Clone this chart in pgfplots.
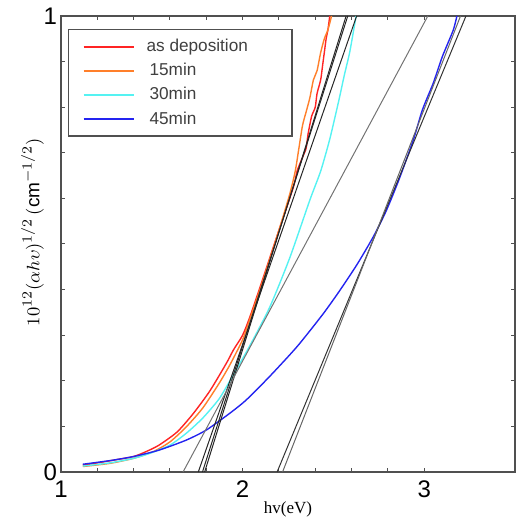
\documentclass[border=0pt]{standalone}
\usepackage{pgfplots}
\pgfplotsset{compat=1.18}
\usepackage{fontspec}
\setmainfont{Liberation Sans}
\newfontfamily\seriffont{Liberation Serif}

\definecolor{cRed}{HTML}{FF2424}
\definecolor{cOrange}{HTML}{FF7F2A}
\definecolor{cCyan}{HTML}{55F2F2}
\definecolor{cBlue}{HTML}{2424F0}
\definecolor{frame}{HTML}{505050}

\begin{document}%
\begin{tikzpicture}
\begin{axis}[
    width=227pt, height=228pt,
    scale only axis,
    xmin=1, xmax=3.5, ymin=0, ymax=1,
    xtick={1,2,3}, ytick={0,1},
    minor x tick num=4, minor y tick num=9,
    tick align=inside,
    major tick length=2.2pt, minor tick length=2.2pt,
    tick style={frame, line width=0.5pt},
    axis line style={frame, line width=0.7pt},
    ticklabel style={font=\fontsize{12}{14}\selectfont},
    /pgf/number format/assume math mode=true,
    xticklabel style={yshift=-1pt},
    yticklabel style={xshift=1.5pt},
    xlabel={\seriffont hv(eV)},
    xlabel style={font=\fontsize{8.5}{10}\selectfont, yshift=5pt},
    ylabel={$10^{12}(\alpha h\upsilon)^{1/2}\,(\mathrm{cm}^{-1/2})$},
    ylabel style={font=\fontsize{9.5}{11}\selectfont, yshift=-7pt, xshift=6pt},
    legend style={at={(0.0154,0.971)}, anchor=north west,
        draw=frame, line width=0.6pt, font=\fontsize{8.6}{10}\selectfont,
        text=black!75, row sep=0.4pt, inner xsep=7pt, inner ysep=2.5pt},
    legend cell align=left,
    legend image code/.code={\draw[#1, line width=1pt] (0pt,0pt) -- (25pt,0pt);},
]
\addplot[cRed, line width=0.7pt, smooth, tension=0.4] coordinates {
(1.12,0.015)(1.20,0.020)(1.29,0.026)(1.40,0.034)(1.47,0.045)(1.54,0.059)
(1.64,0.088)(1.73,0.129)(1.82,0.178)(1.91,0.238)(1.95,0.268)(2.00,0.30)
(2.04,0.34)(2.10,0.41)(2.20,0.53)(2.28,0.625)(2.30,0.66)(2.33,0.69)(2.35,0.71)
(2.36,0.74)(2.38,0.78)(2.40,0.80)(2.41,0.83)(2.43,0.86)(2.44,0.89)
(2.45,0.92)(2.46,0.95)(2.47,0.97)(2.48,1.0)};
\addplot[cOrange, line width=0.7pt, smooth, tension=0.4] coordinates {
(1.12,0.012)(1.27,0.019)(1.40,0.030)(1.51,0.045)(1.60,0.066)(1.69,0.099)
(1.78,0.140)(1.87,0.194)(1.93,0.235)(2.00,0.29)(2.04,0.335)(2.10,0.405)(2.20,0.53)
(2.26,0.61)(2.29,0.66)(2.31,0.71)(2.33,0.76)(2.35,0.79)(2.37,0.82)
(2.39,0.86)(2.41,0.88)(2.43,0.92)(2.45,0.95)(2.47,0.97)(2.49,1.0)};
\addplot[cCyan, line width=0.7pt, smooth, tension=0.4] coordinates {
(1.12,0.013)(1.27,0.020)(1.40,0.030)(1.49,0.041)(1.60,0.059)(1.69,0.085)
(1.78,0.118)(1.87,0.160)(1.93,0.200)(2.04,0.277)(2.15,0.362)(2.26,0.470)
(2.37,0.596)(2.43,0.66)(2.48,0.730)(2.53,0.815)(2.56,0.87)(2.59,0.921)
(2.625,1.0)};
\addplot[cBlue, line width=0.7pt, smooth, tension=0.4] coordinates {
(1.12,0.017)(1.27,0.025)(1.40,0.034)(1.54,0.048)(1.69,0.070)(1.80,0.092)
(1.93,0.129)(2.02,0.158)(2.15,0.210)(2.30,0.275)(2.44,0.345)(2.53,0.395)
(2.63,0.455)(2.72,0.516)(2.79,0.572)(2.86,0.640)(2.94,0.728)(2.99,0.794)
(3.05,0.853)(3.10,0.911)(3.16,0.969)(3.18,1.0)};
\legend{\rule{4pt}{0pt}as deposition\rule{13pt}{0pt}, \rule{5.5pt}{0pt}15min, \rule{5.5pt}{0pt}30min, \rule{5.5pt}{0pt}45min}
% tangent lines
\addplot[black!85, line width=0.5pt, forget plot] coordinates {(1.756,0)(2.628,1)};
\addplot[black!85, line width=0.5pt, forget plot] coordinates {(1.779,0)(2.579,1)};
\addplot[black!85, line width=0.5pt, forget plot] coordinates {(1.791,0)(2.570,1)};
\addplot[black!55, line width=0.5pt, forget plot] coordinates {(1.672,0)(3.020,1)};
\addplot[black!80, line width=0.5pt, forget plot] coordinates {(2.190,0)(3.230,1)};
\addplot[black!60, line width=0.5pt, forget plot] coordinates {(2.220,0)(3.200,1)};
\end{axis}
\pgfresetboundingbox
\path[use as bounding box] (current axis.south west) ++(-30.5pt,-25pt) rectangle ++(257.5pt,261pt);
\end{tikzpicture}%
\end{document}
